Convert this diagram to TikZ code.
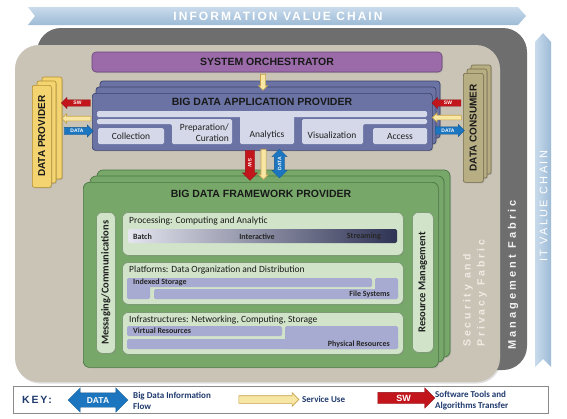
\documentclass[tikz,border=0pt]{standalone}
\usepackage{fontspec}
\setmainfont{Carlito}
\newfontfamily\arialf{Liberation Sans}
\newfontfamily\spacedA[LetterSpace=17]{Liberation Sans}
\newfontfamily\spacedB[LetterSpace=28]{Liberation Sans}
\newfontfamily\spacedC[LetterSpace=21]{Liberation Sans}
\usetikzlibrary{shapes.arrows,shadows}
\definecolor{bannerblue}{HTML}{9DBBD6}
\definecolor{bannerlight}{HTML}{C9DBEC}
\definecolor{mgmtgray}{HTML}{6E6E6E}
\definecolor{beige}{HTML}{CAC4B7}
\definecolor{orchfill}{HTML}{9A6BA8}
\definecolor{orchborder}{HTML}{6A4578}
\definecolor{appfill}{HTML}{6A73A4}
\definecolor{appborder}{HTML}{3C446E}
\definecolor{applight}{HTML}{D5D8E8}
\definecolor{dpfill}{HTML}{F3D470}
\definecolor{dpborder}{HTML}{B38F2E}
\definecolor{dcfill}{HTML}{B8AE83}
\definecolor{dcborder}{HTML}{736A48}
\definecolor{fwfill}{HTML}{77A86A}
\definecolor{fwborder}{HTML}{4A7741}
\definecolor{fwlight}{HTML}{D1E4C9}
\definecolor{fwinnerborder}{HTML}{7E9C74}
\definecolor{lav}{HTML}{A8ABD1}
\definecolor{gradlight}{HTML}{E4E5EF}
\definecolor{gradmid}{HTML}{A4A7C6}
\definecolor{graddark}{HTML}{2F3354}
\definecolor{swred}{HTML}{C3161C}
\definecolor{datablue}{HTML}{1B75BF}
\definecolor{useyel}{HTML}{F8E7A4}
\definecolor{useborder}{HTML}{C7A24A}
\definecolor{keynavy}{HTML}{1F3A6E}
\definecolor{fabrictext}{HTML}{EFEBE3}
\definecolor{keyborder}{HTML}{8A8A8A}
\tikzset{
  softshadow/.style={drop shadow={opacity=0.3,shadow xshift=1pt,shadow yshift=-1pt}},
  titlef/.style={font=\arialf\bfseries\fontsize{10.5}{12}\selectfont, text=black!90, inner sep=0pt},
  applab/.style={font=\fontsize{9.5}{11}\selectfont, text=black!88, inner sep=0pt},
  sublab/.style={font=\bfseries\fontsize{8}{9}\selectfont, text=black!85, inner sep=0pt},
  fwtitle/.style={font=\fontsize{9.5}{11}\selectfont, text=black!90, inner sep=0pt, anchor=west},
  appbox/.style={draw=appborder, fill=appfill, line width=0.7pt, rounded corners=3pt, softshadow},
  appbar/.style={fill=applight, rounded corners=1.5pt},
  appsub/.style={fill=applight, rounded corners=1.5pt, inner sep=0pt, applab},
  dpbox/.style={draw=dpborder, fill=dpfill, line width=0.6pt, rounded corners=2pt, softshadow},
  dcbox/.style={draw=dcborder, fill=dcfill, line width=0.6pt, rounded corners=2pt, softshadow},
  fwbox/.style={draw=fwborder, fill=fwfill, line width=0.7pt, rounded corners=6pt, softshadow},
  fwinner/.style={draw=fwinnerborder, fill=fwlight, line width=0.8pt, rounded corners=6pt, inner sep=0pt, softshadow},
  lavbar/.style={fill=lav, rounded corners=1.5pt},
  vlab/.style={rotate=90, font=\bfseries\fontsize{10.5}{12}\selectfont, text=black!88, inner sep=0pt},
  sidelab/.style={rotate=90, font=\arialf\bfseries\fontsize{10}{12}\selectfont, text=black!90, inner sep=0pt},
  swarrow/.style={single arrow, fill=swred, draw=swred!75!black, line width=0.3pt, text=white, font=\arialf\bfseries\fontsize{5}{5}\selectfont, inner xsep=0.5pt, inner ysep=0pt, single arrow head extend=2.5pt, single arrow head indent=0pt, text height=4.8pt, text depth=1.2pt},
  usearrow/.style={single arrow, fill=useyel, draw=useborder, line width=0.6pt, inner sep=0pt, single arrow head extend=2.3pt, text height=4pt, text depth=0pt},
  dataarrow/.style={single arrow, fill=datablue, draw=datablue!75!black, line width=0.3pt, text=white, font=\arialf\bfseries\fontsize{5}{5}\selectfont, inner xsep=0.5pt, inner ysep=0pt, single arrow head extend=2.5pt, text height=5.3pt, text depth=1.7pt},
  databiarrow/.style={double arrow, fill=datablue, draw=datablue!75!black, line width=0.3pt, text=white, font=\arialf\bfseries\fontsize{5}{5}\selectfont, inner xsep=0.5pt, inner ysep=0pt, double arrow head extend=2.5pt, text height=6.8pt, text depth=3.2pt},
  keytxt/.style={anchor=west, align=left, font=\bfseries\fontsize{9}{11}\selectfont, text=keynavy, inner sep=0pt},
}
\begin{document}
\begin{tikzpicture}[x=1pt,y=-1pt]
\useasboundingbox (0,0) rectangle (567,418);
\fill[white] (0,0) rectangle (567,418);

% value chain banners
\shade[top color=bannerlight, bottom color=bannerblue] (28,7) -- (518,7) -- (526,16) -- (518,25) -- (28,25) -- (35,16) -- cycle;
\node[text=white, font=\spacedA\bfseries\fontsize{12}{12}\selectfont, inner sep=0pt] (ivc) at (278,16.5) {INFORMATION VALUE CHAIN};
\shade[left color=bannerlight, right color=bannerblue] (535,367) -- (535,42) -- (543,33) -- (551,42) -- (551,367) -- (543,359) -- cycle;
\node[rotate=90, anchor=west, text=white, font=\spacedC\fontsize{11}{11}\selectfont, inner sep=0pt] (itvc) at (543.5,262) {IT VALUE CHAIN};

% fabrics
\fill[mgmtgray, rounded corners=24pt] (37,28) rectangle (527,370);
\fill[beige, rounded corners=24pt, drop shadow={opacity=0.25,shadow xshift=1pt,shadow yshift=-1.5pt}] (15,45) rectangle (500,382);
\node[rotate=90, anchor=west, text=fabrictext, font=\spacedB\bfseries\fontsize{10.5}{11}\selectfont, inner sep=0pt] (sec1) at (468,347) {Security and};
\node[rotate=90, anchor=west, text=fabrictext, font=\spacedB\bfseries\fontsize{10.5}{11}\selectfont, inner sep=0pt] (sec2) at (482,347) {Privacy Fabric};
\node[rotate=90, anchor=west, text=white!90!gray, font=\spacedB\bfseries\fontsize{11}{11}\selectfont, inner sep=0pt] (mgmt) at (513,350) {Management Fabric};

% orchestrator
\node[draw=orchborder, fill=orchfill, line width=0.6pt, rounded corners=4pt, minimum width=350pt, minimum height=20pt, titlef, softshadow] (orch) at (267,62) {SYSTEM ORCHESTRATOR};

% application provider
\draw[appbox] (100,81) rectangle (440,138);
\draw[appbox] (96,87) rectangle (436,144);
\node[appbox, anchor=north west, minimum width=340pt, minimum height=57pt, inner sep=0pt] (app) at (92,93) {};
\node[titlef] (apptitle) at (262,102) {BIG DATA APPLICATION PROVIDER};
\fill[appbar] (97,111) rectangle (427,117);
\fill[appbar] (97,119) -- (232,119) -- (232,144) -- (172,144) -- (172,124) -- (97,124) -- cycle;
\fill[appbar] (302,119) -- (427,119) -- (427,124) -- (363,124) -- (363,144) -- (302,144) -- cycle;
\fill[appbar] (240,111) rectangle (294,144);
\node[appsub, minimum width=66pt, minimum height=16pt] (coll) at (131,136) {Collection};
\node[appsub, minimum width=54pt, minimum height=16pt] (access) at (400,136) {Access};
\node[applab, anchor=east, align=right] (prep) at (229,132.5) {Preparation/\\Curation};
\node[applab] (anal) at (267,134.5) {Analytics};
\node[applab] (visu) at (332,135.5) {Visualization};

% data provider
\draw[dpbox] (42,77) rectangle (62,179);
\draw[dpbox] (37,81) rectangle (56,183);
\node[dpbox, anchor=north west, minimum width=19pt, minimum height=102pt, inner sep=0pt] (dp) at (32,85) {};
\node[sidelab] (dptxt) at (dp.center) {DATA PROVIDER};

% data consumer
\draw[dcbox] (471,65) rectangle (491,174);
\draw[dcbox] (467,69) rectangle (487,178);
\node[dcbox, anchor=north west, minimum width=20pt, minimum height=109pt, inner sep=0pt] (dc) at (463,73) {};
\node[sidelab] (dctxt) at (dc.center) {DATA CONSUMER};

% side arrows
\node[swarrow, shape border rotate=180, minimum height=29pt] (swL) at (77.5,103) {SW};
\node[usearrow, shape border rotate=180, minimum height=29pt] (useL) at (77.5,118.5) {};
\node[dataarrow, minimum height=29pt] (dataL) at (77,131) {DATA};
\node[swarrow, shape border rotate=180, minimum height=29pt] (swR) at (448,103) {SW};
\node[usearrow, shape border rotate=180, minimum height=29pt] (useR) at (448,117.5) {};
\node[dataarrow, minimum height=29pt] (dataR) at (448,130.5) {DATA};
\node[usearrow, rotate=-90, minimum height=16pt, text height=4.5pt, single arrow head extend=2pt] (useO) at (263,81) {};

% framework provider
\draw[fwbox] (97,170) rectangle (450,357);
\draw[fwbox] (90,176) rectangle (444,362);
\node[fwbox, anchor=north west, minimum width=355pt, minimum height=185pt, inner sep=0pt] (fw) at (83,182) {};
\node[titlef] (fwt) at (261,194) {BIG DATA FRAMEWORK PROVIDER};
\node[fwinner, anchor=north west, minimum width=19pt, minimum height=141pt] (msg) at (96,212) {};
\node[vlab] (msgtxt) at (msg.center) {Messaging/Communications};
\node[fwinner, anchor=north west, minimum width=21pt, minimum height=140pt] (res) at (412,212) {};
\node[vlab] (restxt) at (res.center) {Resource Management};

\node[fwinner, anchor=north west, minimum width=281pt, minimum height=43pt] (proc) at (122,212) {};
\node[fwtitle] (proct) at (129,221) {Processing: Computing and Analytic};
\shade[left color=gradlight, middle color=gradmid, right color=graddark, rounded corners=2pt] (128,229) rectangle (397,243);
\node[sublab, anchor=west] (batch) at (133,236.5) {Batch};
\node[sublab] (inter) at (257,236.5) {Interactive};
\node[sublab, anchor=east] (stream) at (381,236.5) {Streaming};

\node[fwinner, anchor=north west, minimum width=281pt, minimum height=42pt] (plat) at (122,262) {};
\node[fwtitle] (platt) at (129,270) {Platforms: Data Organization and Distribution};
\fill[lavbar] (127,278) rectangle (372,287);
\fill[lavbar] (127,278) rectangle (150,299);
\fill[lavbar] (375,278) rectangle (398,299);
\fill[lavbar] (154,289) rectangle (398,299);
\node[sublab, anchor=west] (idx) at (133,282.5) {Indexed Storage};
\node[sublab, anchor=east] (fs) at (390,294) {File Systems};

\node[fwinner, anchor=north west, minimum width=281pt, minimum height=42pt] (infra) at (122,312) {};
\node[fwtitle] (infrat) at (129,320.5) {Infrastructures: Networking, Computing, Storage};
\fill[lavbar] (127,326) rectangle (282,336);
\fill[lavbar] (285,326) rectangle (398,349);
\fill[lavbar] (127,339) rectangle (398,349);
\node[sublab, anchor=west] (virt) at (133,331) {Virtual Resources};
\node[sublab, anchor=east] (phys) at (390,344) {Physical Resources};

% vertical arrows app -> framework
\node[swarrow, rotate=-90, minimum height=30pt, text height=6.3pt, text depth=2.7pt, single arrow head extend=2.8pt] (swD) at (250,163) {SW};
\node[usearrow, rotate=-90, minimum height=30pt, text height=4.5pt, single arrow head extend=2pt] (useD) at (263.5,163) {};
\node[databiarrow, rotate=90, minimum height=29pt] (dataD) at (279.5,163.5) {DATA};

% key
\node[draw=keyborder, fill=white, line width=0.8pt, minimum width=535pt, minimum height=27pt, anchor=north west, inner sep=0pt, softshadow] (key) at (13,386) {};
\node[anchor=west, font=\spacedA\bfseries\fontsize{10.5}{11}\selectfont, text=keynavy, inner sep=0pt] (keylab) at (22,400) {KEY:};
\node[databiarrow, minimum height=60pt, double arrow head extend=5pt, text height=10pt, text depth=4pt, inner xsep=4pt, font=\arialf\bfseries\fontsize{8.5}{9}\selectfont] (keydata) at (98,400) {DATA};
\node[keytxt] (keydatatxt) at (133,400.5) {Big Data Information\\Flow};
\node[usearrow, minimum height=60pt, text height=7pt, single arrow head extend=3pt] (keyuse) at (267,399.5) {};
\node[keytxt] (keyusetxt) at (302,399) {Service Use};
\node[swarrow, minimum height=57pt, text height=8.7pt, text depth=2.3pt, single arrow head extend=4.5pt, font=\arialf\bfseries\fontsize{9}{9}\selectfont] (keysw) at (403.5,398) {SW};
\node[keytxt] (keyswtxt) at (435,400.5) {Software Tools and\\Algorithms Transfer};
\end{tikzpicture}
\end{document}
